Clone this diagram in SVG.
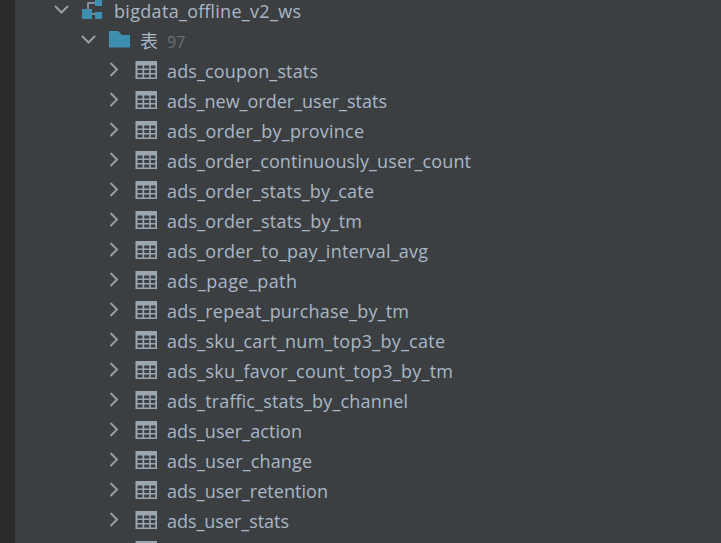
<svg xmlns="http://www.w3.org/2000/svg" width="721" height="543" viewBox="0 0 721 543">
<style>
.t{font-family:"Open Sans","Noto Sans","Liberation Sans",sans-serif;font-size:18px;fill:#a9b7c6}
.c{fill:none;stroke:#9a9da0;stroke-width:2}
.g{fill:#9aa7b0}
.l{fill:#3c3f41}
</style>
<defs>
<g id="row">
<path class="c" d="M110.500 -7L117 -0.500L110.500 6"/>
<rect class="g" x="135.500" y="-9" width="21.500" height="18"/>
<g class="l">
<rect x="137.500" y="-4.500" width="5" height="3"/><rect x="144.200" y="-4.500" width="5" height="3"/><rect x="150.800" y="-4.500" width="4.500" height="3"/>
<rect x="137.500" y="0" width="5" height="3"/><rect x="144.200" y="0" width="5" height="3"/><rect x="150.800" y="0" width="4.500" height="3"/>
<rect x="137.500" y="4.500" width="5" height="3"/><rect x="144.200" y="4.500" width="5" height="3"/><rect x="150.800" y="4.500" width="4.500" height="3"/>
</g>
</g>
</defs>
<rect width="721" height="543" fill="#3c3f41"/>
<rect width="15" height="543" fill="#2b2b2b"/>
<g id="schema">
<path class="c" d="M55 6L61.500 12.500L68 6"/>
<path fill="none" stroke="#9aa7b0" stroke-width="1.500" d="M88 9V3H95"/>
<rect x="82" y="9" width="10" height="10" fill="#3d8fb0"/>
<rect x="95" y="0" width="7" height="6" fill="#3d8fb0"/>
<rect x="95" y="12" width="7" height="7" fill="#3d8fb0"/>
<path stroke="#9aa7b0" stroke-width="1.500" d="M92 14H95"/>
<text class="t" x="114" y="18" textLength="187">bigdata_offline_v2_ws</text>
</g>
<g id="tables-folder">
<path class="c" d="M82 36L88.500 42.500L95 36"/>
<path fill="#3d8fb0" d="M109 31H118L122 35H130V47.500H109Z"/>
<text x="140" y="48" font-family="'Noto Sans CJK SC',sans-serif" font-size="18" fill="#a9b7c6">表</text>
<text x="167" y="48" font-family="'Open Sans','Noto Sans',sans-serif" font-size="16" fill="#6d6f70">97</text>
</g>
<g id="ads_coupon_stats"><use href="#row" y="70"/><text class="t" x="167" y="78" textLength="151">ads_coupon_stats</text></g>
<g id="ads_new_order_user_stats"><use href="#row" y="100"/><text class="t" x="167" y="108" textLength="220">ads_new_order_user_stats</text></g>
<g id="ads_order_by_province"><use href="#row" y="130"/><text class="t" x="167" y="138" textLength="197">ads_order_by_province</text></g>
<g id="ads_order_continuously_user_count"><use href="#row" y="160"/><text class="t" x="167" y="168" textLength="304">ads_order_continuously_user_count</text></g>
<g id="ads_order_stats_by_cate"><use href="#row" y="190"/><text class="t" x="167" y="198" textLength="207">ads_order_stats_by_cate</text></g>
<g id="ads_order_stats_by_tm"><use href="#row" y="220"/><text class="t" x="167" y="228" textLength="195">ads_order_stats_by_tm</text></g>
<g id="ads_order_to_pay_interval_avg"><use href="#row" y="250"/><text class="t" x="167" y="258" textLength="261">ads_order_to_pay_interval_avg</text></g>
<g id="ads_page_path"><use href="#row" y="280"/><text class="t" x="167" y="288" textLength="130">ads_page_path</text></g>
<g id="ads_repeat_purchase_by_tm"><use href="#row" y="310"/><text class="t" x="167" y="318" textLength="242">ads_repeat_purchase_by_tm</text></g>
<g id="ads_sku_cart_num_top3_by_cate"><use href="#row" y="340"/><text class="t" x="167" y="348" textLength="278">ads_sku_cart_num_top3_by_cate</text></g>
<g id="ads_sku_favor_count_top3_by_tm"><use href="#row" y="370"/><text class="t" x="167" y="378" textLength="286">ads_sku_favor_count_top3_by_tm</text></g>
<g id="ads_traffic_stats_by_channel"><use href="#row" y="400"/><text class="t" x="167" y="408" textLength="241">ads_traffic_stats_by_channel</text></g>
<g id="ads_user_action"><use href="#row" y="430"/><text class="t" x="167" y="438" textLength="135">ads_user_action</text></g>
<g id="ads_user_change"><use href="#row" y="460"/><text class="t" x="167" y="468" textLength="145">ads_user_change</text></g>
<g id="ads_user_retention"><use href="#row" y="490"/><text class="t" x="167" y="498" textLength="161">ads_user_retention</text></g>
<g id="ads_user_stats"><use href="#row" y="520"/><text class="t" x="167" y="528" textLength="122">ads_user_stats</text></g>
<g id="next-row"><rect class="g" x="135.500" y="541" width="21.500" height="2"/></g>
</svg>
